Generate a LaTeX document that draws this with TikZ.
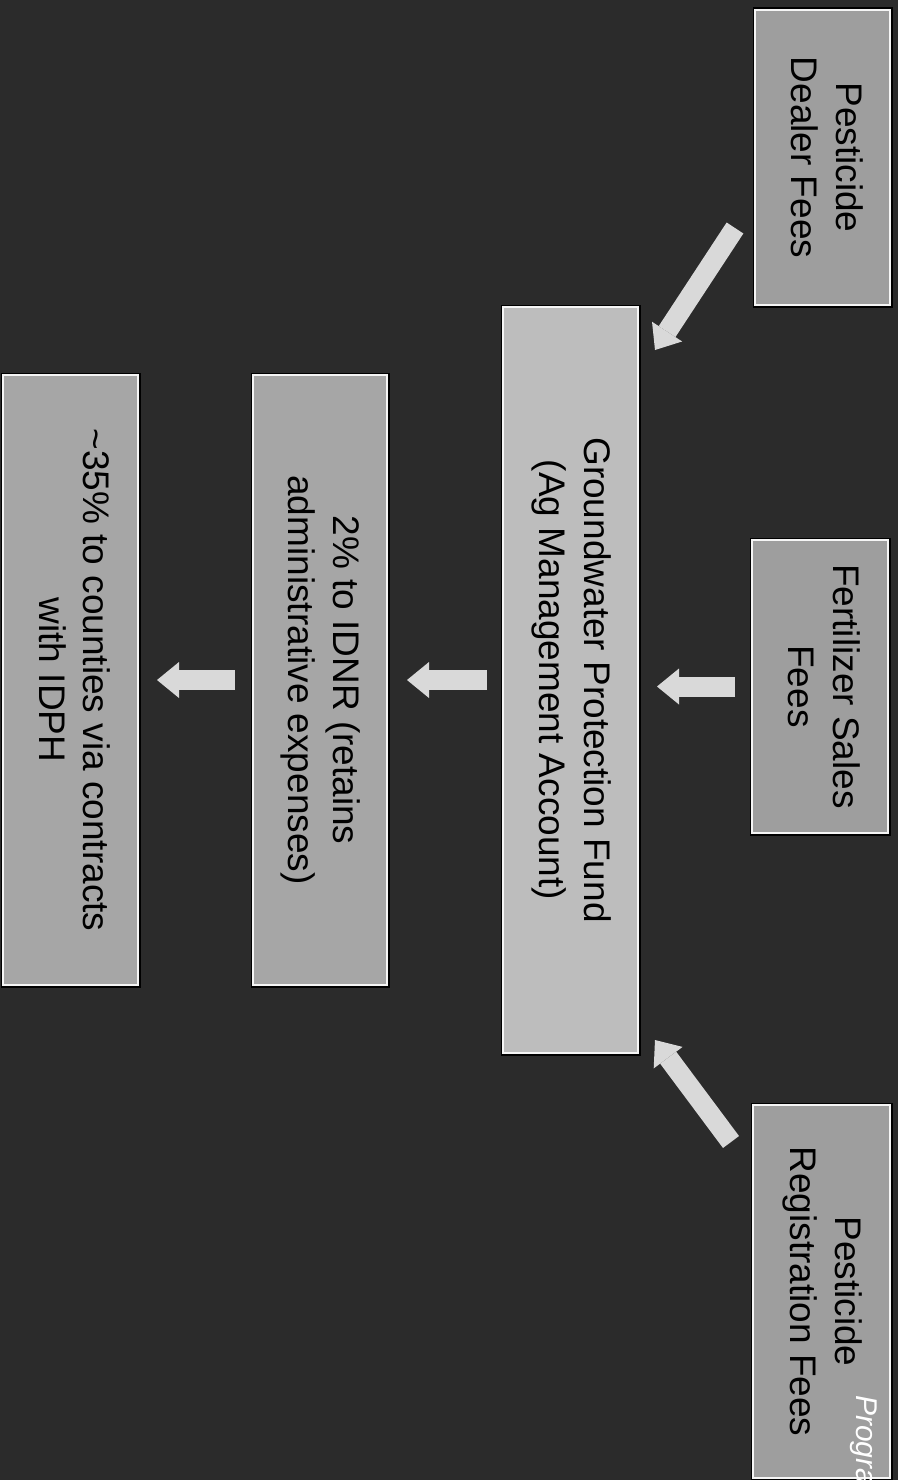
\documentclass[tikz,border=0pt]{standalone}
\usepackage{fontspec}
\setmainfont{Liberation Sans}
\usepackage{graphicx}
\usetikzlibrary{arrows.meta,calc}
\definecolor{bg}{HTML}{2B2B2B}
\definecolor{srcgray}{HTML}{9E9E9E}
\definecolor{fundgray}{HTML}{BDBDBD}
\definecolor{outgray}{HTML}{A6A6A6}
\definecolor{arrowgray}{HTML}{D9D9D9}
\newcommand\rtext[1]{\rotatebox{-90}{\begin{tabular}{@{}c@{}}#1\end{tabular}}}
\begin{document}
\begin{tikzpicture}[x=1pt,y=-1pt,
  box/.style={fill=srcgray, draw=white!92!gray, line width=1.5pt,
    preaction={draw=black, line width=5pt},
    inner sep=0pt, outer sep=0pt,
    font=\fontsize{37}{45}\selectfont},
  barrow/.style={draw=arrowgray, line width=20pt, line cap=butt,
    -{Triangle[width=36pt,length=22pt,line width=0pt]}}
]
\fill[bg] (0,0) rectangle (898,1480);
\useasboundingbox (0,0) rectangle (898,1480);

% source boxes
\node[box, minimum width=135pt, minimum height=295pt] (dealer) at (822.5,157.5)
  {\rtext{Pesticide\\Dealer Fees}};
\node[box, minimum width=136pt, minimum height=293pt] (fert) at (820,686.5)
  {\rtext{Fertilizer Sales\\Fees}};
\node[box, minimum width=137pt, minimum height=373pt] (reg) at (821.5,1291.5)
  {\rtext{Pesticide\\Registration Fees}};

% fund
\node[box, fill=fundgray, minimum width=135pt, minimum height=746pt] (gw) at (570.5,680)
  {\rtext{Groundwater Protection Fund\\(Ag Management Account)}};

% outputs
\node[box, fill=outgray, minimum width=134pt, minimum height=610pt] (idnr) at (320,680)
  {\rtext{2\% to IDNR (retains\\administrative expenses)}};
\node[box, fill=outgray, minimum width=135pt, minimum height=610pt] (cnt) at (70.5,680)
  {\rtext{\textasciitilde35\% to counties via contracts\\with IDPH}};

% diagonal arrow end points
\coordinate (d1) at (735,228);
\coordinate (d2) at (655,350);
\coordinate (r1) at (731,1142);
\coordinate (r2) at (655,1040);

\draw[barrow] (d1) -- (d2);
\draw[barrow] (r1) -- (r2);
\draw[barrow, shorten <=17pt, shorten >=19pt] (fert.west) -- (fert.west -| gw.east);
\draw[barrow, shorten <=16pt, shorten >=20pt] (gw.west) -- (gw.west -| idnr.east);
\draw[barrow, shorten <=18pt, shorten >=19pt] (idnr.west) -- (idnr.west -| cnt.east);

\node[text=white, font=\fontsize{30}{36}\selectfont\itshape, rotate=-90, anchor=south west,
  inner sep=0pt] (prog) at (850,1395) {Progra};
\end{tikzpicture}
\end{document}
